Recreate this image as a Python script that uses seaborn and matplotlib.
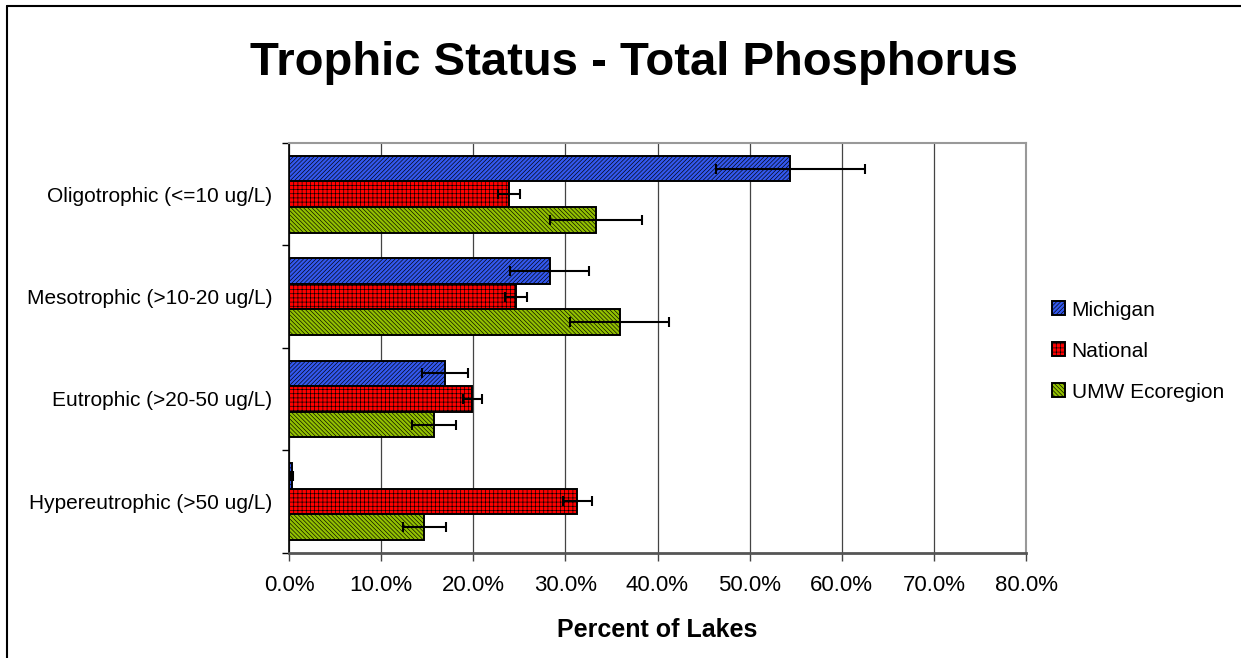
# Trophic status (total phosphorus) - horizontal grouped bars with error bars
import pandas as pd
import matplotlib.pyplot as plt
import seaborn as sns

# Data (percent of lakes)
STATUS = ['Oligotrophic (<=10 ug/L)', 'Mesotrophic (>10-20 ug/L)',
          'Eutrophic (>20-50 ug/L)', 'Hypereutrophic (>50 ug/L)']
REGIONS = ['Michigan', 'National', 'UMW Ecoregion']
michigan = [54.4, 28.3, 16.9, 0.3]
national = [23.9, 24.6, 19.9, 31.3]
umw = [33.3, 35.9, 15.7, 14.7]
michigan_err = [8.1, 4.3, 2.5, 0.1]
national_err = [1.2, 1.2, 1.0, 1.6]
umw_err = [5.0, 5.4, 2.4, 2.3]
X_TICKS = [0, 10, 20, 30, 40, 50, 60, 70, 80]

COLORS = ['#3358EE', '#FF0000', '#92C000']
HATCHES = ['////////', '++++', '\\\\\\\\\\\\\\\\']

rows = []
for region, vals, errs in zip(REGIONS, [michigan, national, umw],
                              [michigan_err, national_err, umw_err]):
    for status, v, e in zip(STATUS, vals, errs):
        rows.append({'Status': status, 'Region': region, 'Percent': v, 'Err': e})
data = pd.DataFrame(rows)

sns.set_theme(style='white')
plt.rcParams['font.family'] = ['Liberation Sans', 'DejaVu Sans']
plt.rcParams['hatch.linewidth'] = 0.45
for key in ['text.color', 'axes.labelcolor', 'xtick.color', 'ytick.color']:
    plt.rcParams[key] = 'black'

fig = plt.figure(figsize=(12.41, 6.58), dpi=100)
ax = fig.add_axes([289 / 1241, 1 - 552.5 / 658, (1026 - 289) / 1241, (552.5 - 143) / 658])

sns.barplot(data, y='Status', x='Percent', hue='Region', order=STATUS,
            hue_order=REGIONS, palette=COLORS, orient='h', width=0.75, saturation=1,
            edgecolor='black', linewidth=1.4, errorbar=None, legend=False, ax=ax)

# hatch patterns + error bars
for cont, region, hatch in zip(ax.containers, REGIONS, HATCHES):
    sub = data[data['Region'] == region].set_index('Status').loc[STATUS]
    ys, xs = [], []
    for p in cont:
        p.set_hatch(hatch)
        ys.append(p.get_y() + p.get_height() / 2)
        xs.append(p.get_width())
    ax.errorbar(xs, ys, xerr=sub['Err'].values, fmt='none', ecolor='black',
                elinewidth=1.5, capsize=3.6, capthick=1.5, zorder=5)

ax.set_xlim(0, 80)
ax.set_ylim(3.5, -0.5)
ax.set_xticks(X_TICKS)
ax.set_xticklabels([f'{t:.1f}%' for t in X_TICKS], fontsize=16)
ax.set_yticks(range(len(STATUS)))
ax.set_yticklabels(STATUS, fontsize=15)
ax.set_yticks([-0.5, 0.5, 1.5, 2.5, 3.5], minor=True)
ax.tick_params(axis='y', which='major', length=0, pad=12)
ax.tick_params(axis='y', which='minor', length=5, width=1, color='black', left=True)
ax.tick_params(axis='x', which='major', length=6, width=1, color='#444444',
               bottom=True, pad=10)
ax.xaxis.grid(True, color='#444444', linewidth=0.9)
ax.set_axisbelow(True)
ax.set_ylabel('')
ax.set_xlabel('Percent of Lakes', fontsize=18, fontweight='bold', labelpad=16)

for side in ['top', 'right']:
    ax.spines[side].set_color('#999999')
    ax.spines[side].set_linewidth(1.5)
ax.spines['left'].set_color('black')
ax.spines['left'].set_linewidth(1.2)
ax.spines['bottom'].set_color('#555555')
ax.spines['bottom'].set_linewidth(2)

leg = ax.legend(handles=[c[0] for c in ax.containers], labels=REGIONS,
                loc='upper left', bbox_to_anchor=(1033 / 1241, 1 - 282 / 658),
                bbox_transform=fig.transFigure, frameon=False, fontsize=15,
                handlelength=0.65, handleheight=0.65, handletextpad=0.3,
                labelspacing=1.05)

fig.text(0.511, 1 - 75 / 658, 'Trophic Status - Total Phosphorus', ha='center',
         va='baseline', fontsize=34, fontweight='bold')

# outer chart border (top and left only are visible)
fig.add_artist(plt.Line2D([7 / 1241, 1], [1 - 6 / 658, 1 - 6 / 658],
                          color='black', linewidth=1.5, transform=fig.transFigure))
fig.add_artist(plt.Line2D([7 / 1241, 7 / 1241], [0, 1 - 6 / 658],
                          color='black', linewidth=1.5, transform=fig.transFigure))

plt.savefig('out.png', dpi=100)
